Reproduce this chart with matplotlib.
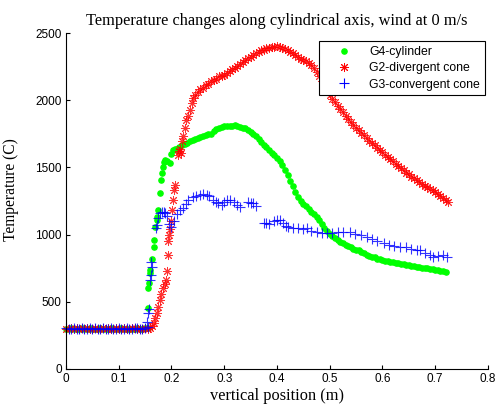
import numpy as np
import matplotlib.pyplot as plt

# flat start region (all three nozzles sit at ambient ~300 C)
flat_x = [0.000, 0.005, 0.010, 0.015, 0.020, 0.025, 0.030, 0.035, 0.040, 0.045,
          0.050, 0.055, 0.060, 0.065, 0.070, 0.075, 0.080, 0.085, 0.090, 0.095,
          0.100, 0.105, 0.110, 0.115, 0.120, 0.125, 0.130, 0.135, 0.140, 0.145,
          0.150, 0.155]
flat_red = [300, 296, 303, 298, 305, 299, 302, 297, 304, 300, 298, 303, 301, 296, 305, 299,
            302, 300, 297, 304, 301, 298, 303, 300, 296, 302, 305, 299, 301, 298, 303, 300]
flat_blue = [302, 299, 301, 304, 298, 300, 303, 297, 301, 305, 299, 302, 300, 298, 303, 301,
             299, 304, 300, 297, 302, 301, 298, 303, 300, 299, 302, 304, 298, 301, 306, 310]
flat_green = [301, 300, 302, 299, 300, 301, 303, 300, 299, 302, 300, 301, 300, 302, 299, 301,
              300, 302, 301, 299, 300, 302, 301, 300, 299, 301, 300, 302, 300, 301, 303, 305]

# G4-cylinder
g4_x = [0.156, 0.156, 0.158, 0.159, 0.160, 0.163, 0.166, 0.167, 0.169, 0.172, 0.173, 0.175,
        0.178, 0.180, 0.182, 0.184, 0.186, 0.188, 0.192, 0.197, 0.200, 0.203, 0.207, 0.210,
        0.215, 0.220, 0.225, 0.230, 0.235, 0.240, 0.245, 0.250, 0.255, 0.260, 0.265, 0.270,
        0.275, 0.280, 0.285, 0.290, 0.295, 0.300, 0.305, 0.310, 0.315, 0.320, 0.325, 0.330,
        0.335, 0.340, 0.345, 0.350, 0.355, 0.360, 0.365, 0.370, 0.375, 0.380, 0.385, 0.390,
        0.395, 0.400, 0.405, 0.410, 0.415, 0.420, 0.425, 0.430, 0.435, 0.440, 0.445, 0.450,
        0.455, 0.460, 0.465, 0.470, 0.475, 0.480, 0.485, 0.490, 0.495, 0.500, 0.505, 0.510,
        0.515, 0.520, 0.525, 0.530, 0.535, 0.540, 0.545, 0.550, 0.555, 0.560, 0.565, 0.570,
        0.575, 0.580, 0.585, 0.590, 0.595, 0.600, 0.605, 0.610, 0.615, 0.620, 0.625, 0.630,
        0.635, 0.640, 0.645, 0.650, 0.655, 0.660, 0.665, 0.670, 0.675, 0.680, 0.685, 0.690,
        0.695, 0.700, 0.705, 0.710, 0.715, 0.720]
g4_y = [452, 600, 637, 711, 737, 820, 910, 960, 1059, 1109, 1134, 1183,
        1307, 1406, 1460, 1505, 1540, 1555, 1545, 1530, 1600, 1630, 1635, 1640,
        1650, 1665, 1675, 1685, 1700, 1705, 1715, 1720, 1728, 1735, 1740, 1745,
        1750, 1770, 1785, 1795, 1802, 1805, 1808, 1810, 1810, 1812, 1808, 1802,
        1795, 1790, 1780, 1765, 1745, 1730, 1710, 1690, 1670, 1650, 1630, 1610,
        1590, 1570, 1550, 1520, 1480, 1440, 1400, 1360, 1320, 1280, 1250, 1230,
        1210, 1190, 1170, 1150, 1130, 1110, 1080, 1050, 1025, 1005, 990, 975,
        960, 945, 935, 925, 915, 905, 895, 888, 882, 870, 860, 850,
        842, 836, 830, 822, 815, 808, 803, 800, 798, 796, 792, 788,
        784, 780, 777, 774, 770, 766, 762, 758, 755, 750, 748, 745,
        742, 738, 735, 730, 726, 720]

# G2-divergent cone
g2_x = [0.160, 0.163, 0.166, 0.169, 0.172, 0.175, 0.178, 0.181, 0.184, 0.187, 0.190, 0.192,
        0.194, 0.194, 0.196, 0.197, 0.199, 0.201, 0.203, 0.205, 0.207, 0.212, 0.214, 0.216,
        0.218, 0.220, 0.222, 0.225, 0.228, 0.231, 0.235, 0.238, 0.241, 0.245, 0.250, 0.255,
        0.260, 0.265, 0.270, 0.275, 0.280, 0.285, 0.290, 0.295, 0.300, 0.305, 0.310, 0.315,
        0.320, 0.325, 0.330, 0.335, 0.340, 0.345, 0.350, 0.355, 0.360, 0.365, 0.370, 0.375,
        0.380, 0.385, 0.390, 0.395, 0.400, 0.405, 0.410, 0.415, 0.420, 0.425, 0.430, 0.435,
        0.440, 0.445, 0.450, 0.455, 0.460, 0.465, 0.470, 0.475, 0.480, 0.485, 0.490, 0.495,
        0.500, 0.505, 0.510, 0.515, 0.520, 0.525, 0.530, 0.535, 0.540, 0.545, 0.550, 0.555,
        0.560, 0.565, 0.570, 0.575, 0.580, 0.585, 0.590, 0.595, 0.600, 0.605, 0.610, 0.615,
        0.620, 0.625, 0.630, 0.635, 0.640, 0.645, 0.650, 0.655, 0.660, 0.665, 0.670, 0.675,
        0.680, 0.685, 0.690, 0.695, 0.700, 0.705, 0.710, 0.715, 0.720, 0.725]
g2_y = [305, 320, 345, 380, 420, 465, 510, 560, 600, 630, 660, 730,
        850, 950, 1000, 1040, 1100, 1180, 1260, 1330, 1370, 1590, 1620, 1640,
        1610, 1700, 1730, 1790, 1850, 1880, 1930, 1980, 2020, 2040, 2060, 2080,
        2090, 2110, 2120, 2140, 2150, 2160, 2180, 2180, 2190, 2200, 2215, 2230,
        2240, 2255, 2270, 2285, 2300, 2315, 2325, 2340, 2350, 2360, 2370, 2375,
        2385, 2390, 2395, 2398, 2400, 2395, 2388, 2380, 2370, 2360, 2348, 2338,
        2325, 2310, 2300, 2290, 2280, 2260, 2240, 2210, 2180, 2140, 2100, 2070,
        2040, 2010, 1990, 1960, 1935, 1910, 1885, 1860, 1840, 1815, 1795, 1775,
        1755, 1740, 1720, 1700, 1680, 1665, 1645, 1630, 1612, 1595, 1578, 1560,
        1545, 1528, 1510, 1495, 1480, 1462, 1448, 1432, 1418, 1405, 1392, 1378,
        1365, 1352, 1340, 1330, 1315, 1300, 1285, 1270, 1255, 1245]

# G3-convergent cone
g3_x = [0.153, 0.156, 0.158, 0.160, 0.161, 0.162, 0.163, 0.170, 0.172, 0.175, 0.178, 0.182,
        0.185, 0.188, 0.192, 0.196, 0.200, 0.205, 0.210, 0.216, 0.222, 0.228, 0.232, 0.240,
        0.247, 0.254, 0.260, 0.267, 0.272, 0.278, 0.284, 0.289, 0.295, 0.300, 0.305, 0.311,
        0.318, 0.324, 0.330, 0.345, 0.350, 0.355, 0.360, 0.376, 0.380, 0.385, 0.395, 0.400,
        0.406, 0.412, 0.418, 0.421, 0.430, 0.440, 0.450, 0.456, 0.465, 0.475, 0.485, 0.494,
        0.505, 0.515, 0.525, 0.538, 0.548, 0.560, 0.570, 0.580, 0.590, 0.602, 0.612, 0.622,
        0.633, 0.645, 0.655, 0.665, 0.671, 0.680, 0.690, 0.696, 0.705, 0.715, 0.722]
g3_y = [352, 414, 450, 662, 700, 798, 760, 1050, 1071, 1120, 1158, 1170,
        1165, 1158, 1140, 1080, 1059, 1100, 1150, 1183, 1200, 1230, 1257, 1280,
        1290, 1295, 1300, 1295, 1290, 1260, 1240, 1233, 1220, 1240, 1255, 1257,
        1240, 1220, 1207, 1240, 1235, 1233, 1215, 1090, 1084, 1080, 1100, 1110,
        1109, 1090, 1065, 1059, 1050, 1050, 1045, 1046, 1030, 1020, 1015, 1009,
        1010, 1020, 1020, 1021, 1005, 995, 984, 970, 955, 935, 925, 915,
        910, 905, 890, 885, 885, 860, 845, 836, 840, 845, 835]

plt.rcParams['font.family'] = 'Liberation Sans'
fig = plt.figure(figsize=(5.01, 4.05), dpi=100)
ax = fig.add_axes([0.1317, 0.0889, 0.8423, 0.8296])

ax.plot(flat_x + g4_x, flat_green + g4_y, '.', color='#00ff00', markersize=7.5,
        label='G4-cylinder', clip_on=False)
ax.plot(flat_x + g2_x, flat_red + g2_y, linestyle='none', marker=(8, 2, 0),
        color='#ff0000', markersize=6.5, markeredgewidth=0.7, alpha=0.8,
        label='G2-divergent cone', clip_on=False)
ax.plot(flat_x + g3_x, flat_blue + g3_y, '+', color='#0000ff', markersize=7,
        markeredgewidth=0.8, alpha=0.8, label='G3-convergent cone', clip_on=False)

ax.set_xlim(0, 0.8)
ax.set_ylim(0, 2500)
ax.set_xticks(np.arange(0, 0.81, 0.1))
ax.set_xticklabels(['0', '0.1', '0.2', '0.3', '0.4', '0.5', '0.6', '0.7', '0.8'])
ax.set_yticks([0, 500, 1000, 1500, 2000, 2500])
ax.tick_params(direction='in', length=3, labelsize=8.5, width=0.8, pad=3)
ax.spines['top'].set_visible(False)
ax.spines['right'].set_visible(False)

ax.set_title('Temperature changes along cylindrical axis, wind at 0 m/s',
             fontsize=11.8, family='Liberation Serif')
ax.set_xlabel('vertical position (m)', fontsize=11.8, family='Liberation Serif', labelpad=2)
ax.set_ylabel('Temperature (C)', fontsize=11.2, family='Liberation Serif')
ax.yaxis.set_label_coords(-0.111, 0.533)

leg = ax.legend(loc='upper right', bbox_to_anchor=(0.993, 0.976), fontsize=8.8,
                fancybox=False, edgecolor='black', framealpha=1, borderaxespad=0,
                handlelength=3.2, handletextpad=0.5, labelspacing=0.35)
leg.get_frame().set_linewidth(0.8)
for h in leg.legend_handles:
    h.set_alpha(1)

fig.savefig('out.png', dpi=100)
